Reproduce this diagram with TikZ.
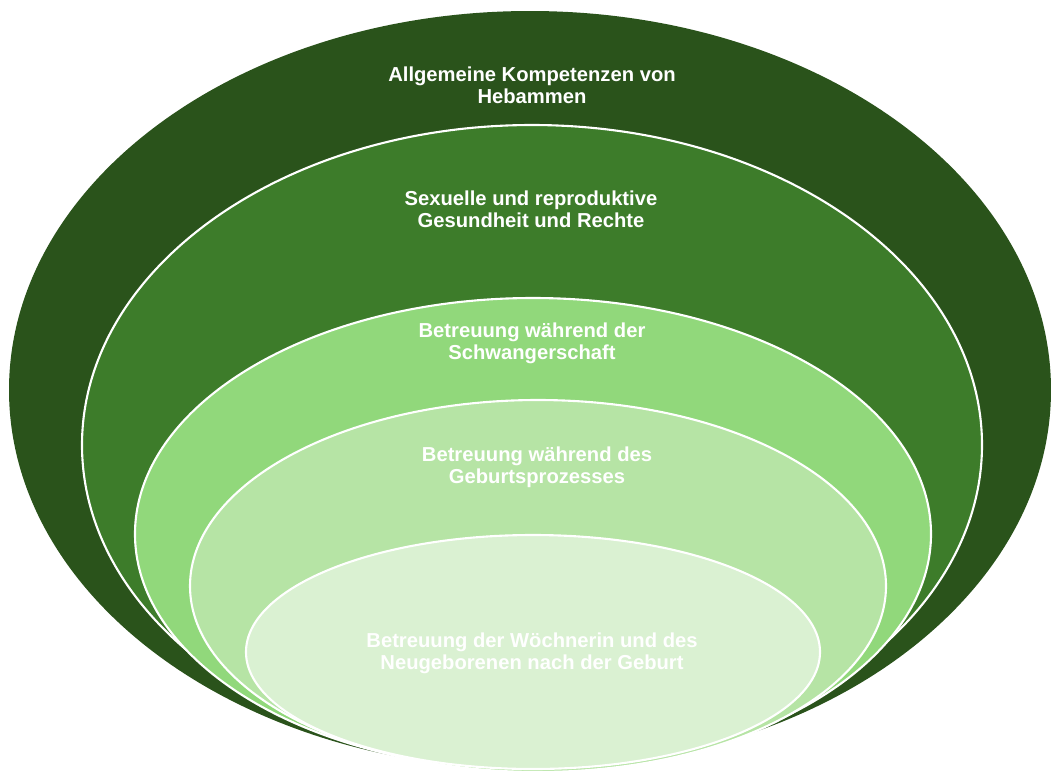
\documentclass[tikz,border=0pt]{standalone}
\usepackage{fontspec}
\setmainfont{Liberation Sans}
\usepackage{tikz}
\usepackage{xcolor}

\definecolor{ringA}{HTML}{2A531B}
\definecolor{ringB}{HTML}{3D7C2A}
\definecolor{ringC}{HTML}{91D87B}
\definecolor{ringD}{HTML}{B6E4A5}
\definecolor{ringE}{HTML}{DAF1D2}

\tikzset{
    ring/.style={draw=white, line width=1.2pt},
    ringlabel/.style={text=white, align=center,
        font=\bfseries\fontsize{11.5}{12.6}\selectfont}
}

\begin{document}
\begin{tikzpicture}[x=0.02cm, y=-0.02cm]
    \useasboundingbox (0,0) rectangle (1051,771);
    % Outer level
    \fill[ringA] (530,390) ellipse (521 and 379);
    % Second level
    \filldraw[ring, fill=ringB] (532,445) ellipse (450 and 320);
    % Third level
    \filldraw[ring, fill=ringC] (533,534) ellipse (398 and 236);
    % Fourth level
    \filldraw[ring, fill=ringD] (538,586) ellipse (348 and 186);
    % Innermost level
    \filldraw[ring, fill=ringE] (533,652) ellipse (287 and 117);
    % Labels
    \node[ringlabel] (allg) at (532,85) {Allgemeine Kompetenzen von\\Hebammen};
    \node[ringlabel] (srgr) at (531,209) {Sexuelle und reproduktive\\Gesundheit und Rechte};
    \node[ringlabel] (schw) at (532,343) {Betreuung während der\\Schwangerschaft};
    \node[ringlabel] (geb) at (537,467) {Betreuung während des\\Geburtsprozesses};
    \node[ringlabel] (woch) at (532,653) {Betreuung der Wöchnerin und des\\Neugeborenen nach der Geburt};
\end{tikzpicture}
\end{document}
